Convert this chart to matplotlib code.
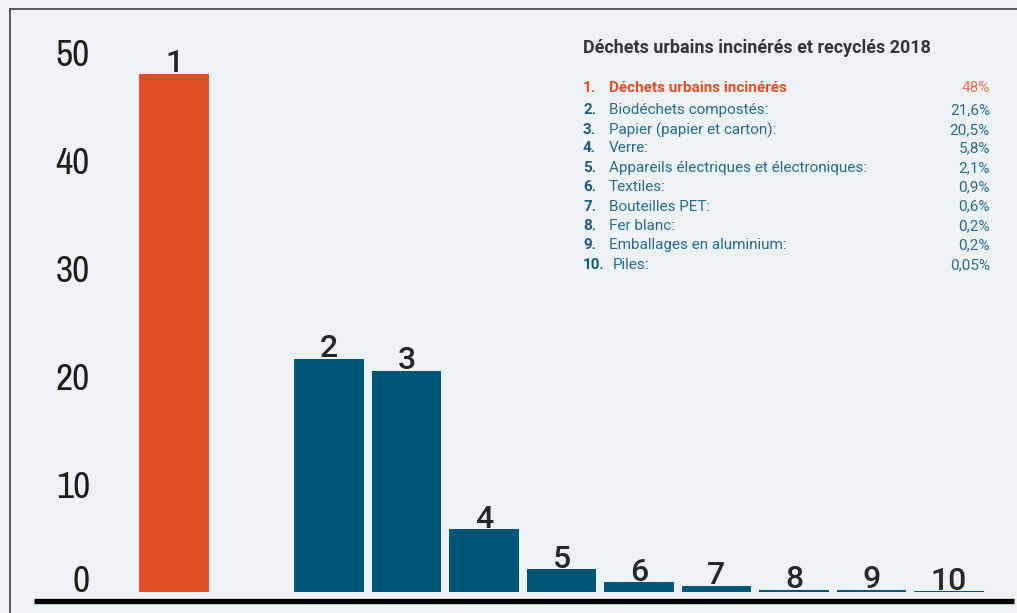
import matplotlib.pyplot as plt
from matplotlib import font_manager
from matplotlib.lines import Line2D

# data
positions = [0, 2, 3, 4, 5, 6, 7, 8, 9, 10]
numbers = ['1', '2', '3', '4', '5', '6', '7', '8', '9', '10']
values = [48, 21.6, 20.5, 5.8, 2.1, 0.9, 0.6, 0.2, 0.2, 0.05]
labels = ['Déchets urbains incinérés', 'Biodéchets compostés:',
          'Papier (papier et carton):', 'Verre:',
          'Appareils électriques et électroniques:', 'Textiles:',
          'Bouteilles PET:', 'Fer blanc:', 'Emballages en aluminium:', 'Piles:']
value_text = ['48%', '21,6%', '20,5%', '5,8%', '2,1%', '0,9%', '0,6%',
              '0,2%', '0,2%', '0,05%']
title = 'Déchets urbains incinérés et recyclés 2018'
yticks = [0, 10, 20, 30, 40, 50]

BG = '#edf2f5'
ORANGE = '#e04e28'
BLUE = '#005677'
TXT_BLUE = '#2b6a8b'

# look for a narrow face for the tall axis numbers
names = sorted({f.name for f in font_manager.fontManager.ttflist})
narrow = [n for n in names if any(k in n for k in ('Condensed', 'Narrow', 'Compressed'))]
narrow_font = narrow[0] if narrow else 'Roboto'

plt.rcParams['font.family'] = ['Roboto', 'DejaVu Sans']

W, H = 1017, 613
fig = plt.figure(figsize=(W / 100, H / 100), dpi=100, facecolor=BG)

# thin frame on top/left
fig.add_artist(Line2D([9.5 / W, 9.5 / W], [0, 1 - 8.5 / H], transform=fig.transFigure,
                      color='#4a4f52', lw=1.3))
fig.add_artist(Line2D([9.5 / W, 1], [1 - 8.5 / H, 1 - 8.5 / H], transform=fig.transFigure,
                      color='#4a4f52', lw=1.3))

left, right, top, bottom = 34, 1014, 8, 592
ax = fig.add_axes([left / W, 1 - bottom / H, (right - left) / W, (bottom - top) / H])
ax.set_facecolor('none')

px_per_unit = 10.8
ax.set_ylim(0, (bottom - top) / px_per_unit)
ax.set_xlim((left - 174) / 77.5, (right - 174) / 77.5)

colors = [ORANGE] + [BLUE] * (len(values) - 1)
ax.bar(positions, values, width=0.9, color=colors, zorder=2)

for p, v, n in zip(positions, values, numbers):
    ax.annotate(n, (p, v), xytext=(0, 1), textcoords='offset points',
                ha='center', va='baseline', fontsize=23, fontweight='medium',
                color='#25272a', zorder=3)

for s in ['top', 'right', 'left']:
    ax.spines[s].set_visible(False)
ax.spines['bottom'].set_position(('outward', 6.5))
ax.spines['bottom'].set_linewidth(3.8)
ax.spines['bottom'].set_color('black')
ax.spines['bottom'].set_capstyle('butt')

ax.set_xticks([])
ax.set_yticks(yticks)
ax.tick_params(axis='y', length=0)
ax.set_yticklabels([])
x_lab = ax.get_xlim()[0] + 56 / 77.5
for t in yticks:
    yy = t if t > 0 else 1.3
    ax.text(x_lab, yy - 0.3, str(t), ha='right', va='center',
            fontsize=27, family=[narrow_font, 'DejaVu Sans'], color='#1c1c1c')

# legend block
fig.text(583 / W, 1 - 48 / H, title, ha='left', va='center', fontsize=12.9,
         fontweight='bold', color='#333639')
row_y = [88, 110, 130, 148.5, 168, 187, 206.5, 226, 245, 265]
for i, (n, lab, vt) in enumerate(zip(numbers, labels, value_text)):
    y = 1 - row_y[i] / H
    c_num = ORANGE if i == 0 else '#1e5a78'
    c_lab = ORANGE if i == 0 else TXT_BLUE
    fig.text(583 / W, y, n + '.', ha='left', va='center', fontsize=11,
             fontweight='bold', color=c_num)
    fig.text((609 if i < 9 else 613) / W, y, lab, ha='left', va='center', fontsize=11,
             fontweight='bold' if i == 0 else 'normal', color=c_lab)
    fig.text(990 / W, y, vt, ha='right', va='center', fontsize=11,
             color='#e8704f' if i == 0 else TXT_BLUE)

fig.savefig('out.png', dpi=100, facecolor=BG)
